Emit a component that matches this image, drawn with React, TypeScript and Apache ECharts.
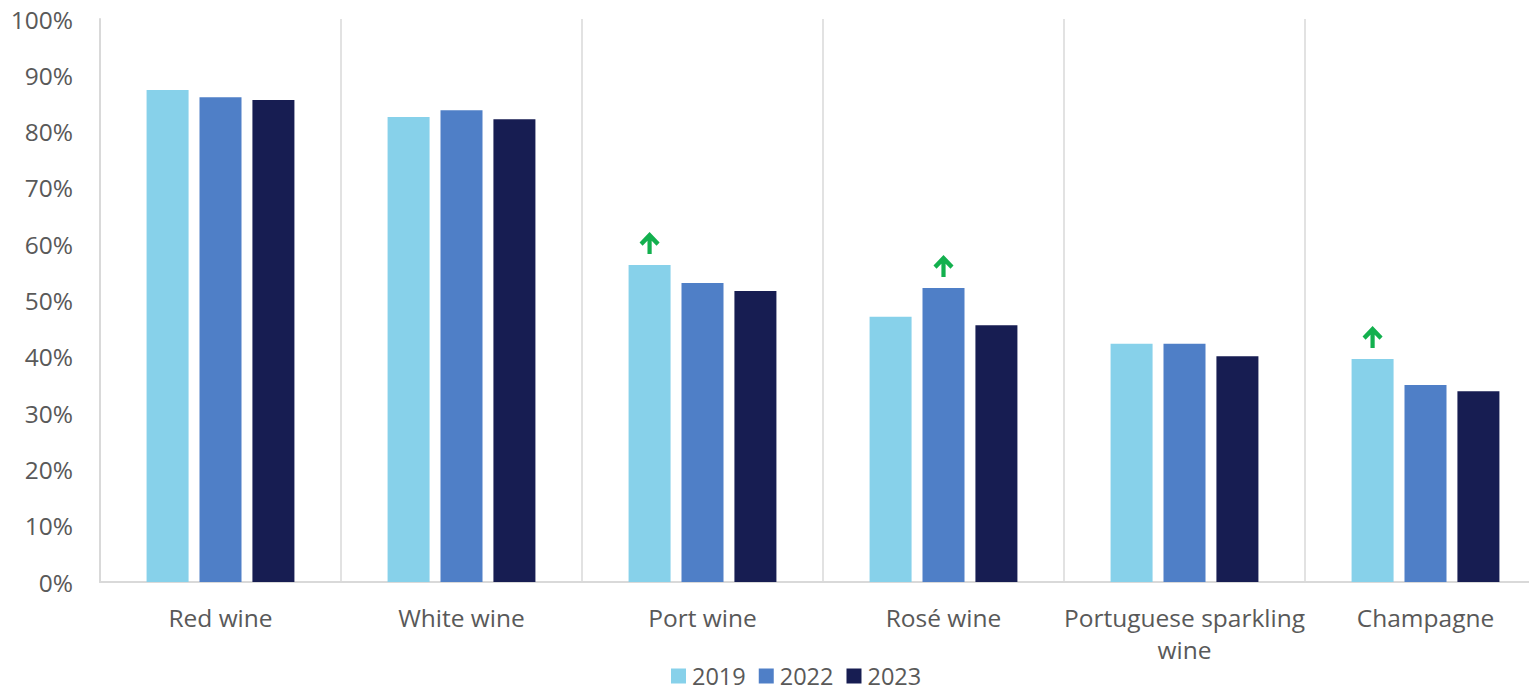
import React, { useEffect, useRef } from "react";
import * as echarts from "echarts";

const categories = ["Red wine", "White wine", "Port wine", "Rosé wine", "Portuguese sparkling wine", "Champagne"];
const years = ["2019", "2022", "2023"];
const values2019 = [87.4, 82.6, 56.3, 47.1, 42.3, 39.6];
const values2022 = [86.1, 83.8, 53.1, 52.2, 42.3, 35.0];
const values2023 = [85.6, 82.2, 51.7, 45.6, 40.1, 33.9];
// arrows: [yearIndex, categoryIndex]
const arrows: [number, number][] = [
  [0, 2],
  [1, 3],
  [0, 5],
];
const colors = ["#87D1EA", "#4F7FC7", "#171D52"];

const ARROW =
  "path://M10.5 0 L21 10.5 L17.8 13.7 L12.7 8.6 L12.7 22 L8.3 22 L8.3 8.6 L3.2 13.7 L0 10.5 Z";

export default function App() {
  const ref = useRef<HTMLDivElement>(null);
  useEffect(() => {
    document.body.style.margin = "0";
    const chart = echarts.init(ref.current!, null, { renderer: "svg" });
    const all = [values2019, values2022, values2023];
    const font = "'Open Sans', 'Noto Sans', sans-serif";
    chart.setOption({
      animation: false,
      textStyle: { fontFamily: font },
      grid: { left: 100, top: 19, bottom: 110, width: 1446, containLabel: false, outerBoundsMode: "none" },
      legend: {
        bottom: 4,
        left: 671,
        padding: 0,
        itemWidth: 15,
        itemHeight: 15,
        itemGap: 13,
        icon: "rect",
        textStyle: { fontSize: 23.5, lineHeight: 22, color: "#595959", fontFamily: font, padding: [0, 0, 0, 1] },
        data: years,
      },
      xAxis: {
        type: "category",
        data: categories,
        axisLine: { show: true, lineStyle: { color: "#D9D9D9", width: 2 } },
        axisTick: { show: false },
        splitLine: { show: true, lineStyle: { color: "#D9D9D9", width: 1.5 } },
        axisLabel: {
          fontSize: 24.5,
          color: "#595959",
          fontFamily: font,
          margin: 19,
          lineHeight: 32,
          interval: 0,
          formatter: (v: string) => v.replace("sparkling ", "sparkling\n"),
        },
      },
      yAxis: {
        type: "value",
        min: 0,
        max: 100,
        interval: 10,
        axisLine: { show: true, lineStyle: { color: "#D9D9D9", width: 2 } },
        axisTick: { show: false },
        splitLine: { show: false },
        axisLabel: {
          fontSize: 24.5,
          color: "#595959",
          fontFamily: font,
          margin: 27,
          formatter: "{value}%",
        },
      },
      series: years.map((y, si) => ({
        name: y,
        type: "bar",
        data: all[si],
        barWidth: 42,
        barGap: "26%",
        itemStyle: { color: colors[si] },
        markPoint: {
          symbol: ARROW,
          symbolSize: [21, 22],
          symbolOffset: [0, -22],
          symbolKeepAspect: true,
          itemStyle: { color: "#13B04E" },
          label: { show: false },
          data: arrows
            .filter((a) => a[0] === si)
            .map((a) => ({ coord: [categories[a[1]], all[si][a[1]]] })),
        },
      })),
    });
    return () => chart.dispose();
  }, []);
  return <div ref={ref} style={{ width: 1529, height: 692 }} />;
}
